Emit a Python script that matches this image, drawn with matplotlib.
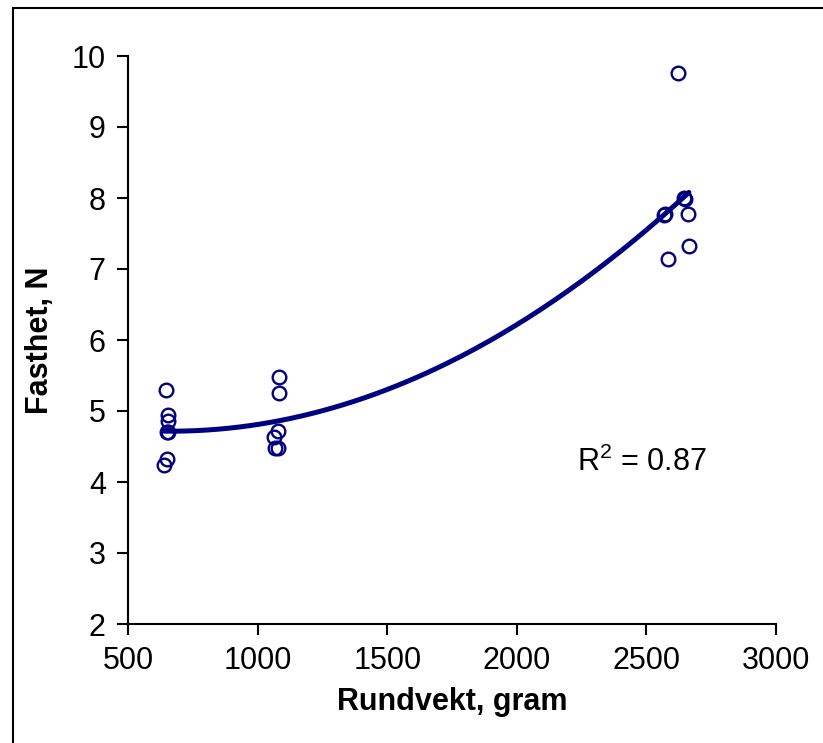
import matplotlib
matplotlib.use('Agg')
import matplotlib.pyplot as plt
from matplotlib.patches import Rectangle
import numpy as np

plt.rcParams['font.family'] = ['Liberation Sans', 'DejaVu Sans']
plt.rcParams['mathtext.fontset'] = 'custom'
plt.rcParams['mathtext.rm'] = 'Liberation Sans'
plt.rcParams['mathtext.it'] = 'Liberation Sans'

# Rundvekt (gram) og fasthet (N)
rundvekt = [647, 653, 655, 652, 650, 640, 655,
            1084, 1084, 1080, 1063, 1068, 1078,
            2623, 2646, 2650, 2572, 2568, 2659, 2664, 2585]
fasthet = [5.30, 4.95, 4.86, 4.71, 4.32, 4.24, 4.70,
           5.48, 5.26, 4.72, 4.64, 4.48, 4.48,
           9.76, 8.00, 7.98, 7.77, 7.76, 7.77, 7.33, 7.14]
r2_label = 'R$^2$ = 0.87'

navy = '#000080'

fig = plt.figure(figsize=(8.23, 7.43), dpi=100)
ax = fig.add_axes([128 / 823, 1 - 624 / 743, 648 / 823, 568 / 743])

# polynomial trendline (order 2), like Excel
coef = np.polyfit(rundvekt, fasthet, 2)
xs = np.linspace(min(rundvekt), max(rundvekt), 200)
ax.plot(xs, np.polyval(coef, xs), color=navy, lw=3.6, solid_capstyle='round')

ax.plot(rundvekt, fasthet, 'o', ms=9.8, mfc='none', mec=navy, mew=1.7)

ax.set_xlim(500, 3000)
ax.set_ylim(2, 10)
ax.set_xticks([500, 1000, 1500, 2000, 2500, 3000])
ax.set_yticks([2, 3, 4, 5, 6, 7, 8, 9, 10])
ax.spines['top'].set_visible(False)
ax.spines['right'].set_visible(False)
for s in ['left', 'bottom']:
    ax.spines[s].set_linewidth(1.5)
ax.tick_params(direction='out', length=8, width=1.5, labelsize=22, pad=8)

ax.set_xlabel('Rundvekt, gram', fontsize=22, fontweight='bold', labelpad=8)
ax.set_ylabel('Fasthet, N', fontsize=22, fontweight='bold', labelpad=12)

ax.text(2232, 4.15, r2_label, fontsize=22, va='baseline', ha='left')

fig.patches.append(Rectangle((13 / 823, -0.1), 1.2, 1 - 8 / 743 + 0.1,
                             transform=fig.transFigure, fill=False,
                             ec='black', lw=1.5))

fig.savefig('out.png', dpi=100)
